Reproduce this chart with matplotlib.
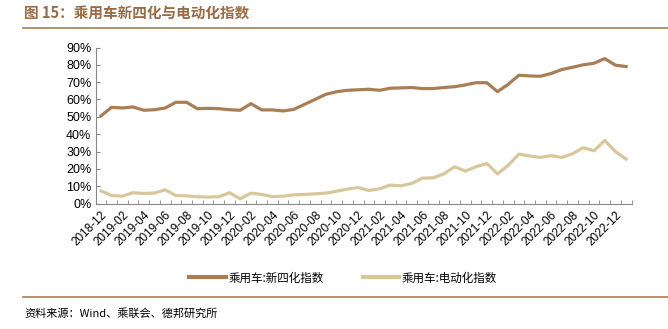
import numpy as np
import matplotlib.pyplot as plt
from matplotlib.lines import Line2D

plt.rcParams['font.family'] = ['Liberation Sans', 'Noto Sans CJK SC', 'DejaVu Sans']

# 月度数据 2018-12 ~ 2023-01
months = ["2018-12"] + [f"{y}-{m:02d}" for y in (2019, 2020, 2021, 2022) for m in range(1, 13)] + ["2023-01"]

new4 = [50.5, 55.5, 55.1, 55.7, 53.8, 54.1, 55.1, 58.4, 58.4, 54.7,
        54.9, 54.7, 54.1, 53.8, 57.6, 54.0, 54.0, 53.4, 54.3, 57.2,
        60.1, 63.0, 64.5, 65.3, 65.6, 65.9, 65.3, 66.5, 66.7, 66.9,
        66.3, 66.3, 66.9, 67.4, 68.4, 69.7, 69.7, 64.5, 68.8, 74.0,
        73.6, 73.4, 75.0, 77.3, 78.6, 80.0, 80.9, 83.6, 79.8, 79.0]

elec = [7.3, 4.6, 4.2, 6.2, 5.8, 6.0, 7.9, 4.6, 4.4, 3.9,
        3.7, 3.9, 6.2, 2.7, 6.0, 5.2, 4.0, 4.2, 5.0, 5.2,
        5.6, 6.0, 7.1, 8.3, 9.2, 7.5, 8.5, 10.6, 10.2, 11.6,
        14.6, 14.8, 17.1, 21.2, 18.7, 21.2, 23.1, 17.1, 22.0, 28.5,
        27.4, 26.6, 27.6, 26.6, 28.7, 32.2, 30.4, 36.4, 29.9, 25.6]

label_new4 = "乘用车:新四化指数"
label_elec = "乘用车:电动化指数"
c_new4 = "#a97e55"
c_elec = "#d9c79c"
c_title = "#9a6b45"

fig = plt.figure(figsize=(6.68, 3.29), dpi=100)
ax = fig.add_axes([95.5/668, 1-203.5/329, (631.5-95.5)/668, (203.5-47.5)/329])

x = np.arange(len(months))
ax.plot(x, np.array(new4)/100, color=c_new4, lw=2.3, solid_joinstyle='round')
ax.plot(x, np.array(elec)/100, color=c_elec, lw=2.3, solid_joinstyle='round')

ax.set_xlim(-0.5, len(months)-0.5)
ax.set_ylim(0, 0.9)
ax.set_yticks(np.arange(0, 0.91, 0.1))
ax.set_yticklabels([f"{int(round(v*100))}%" for v in np.arange(0, 0.91, 0.1)], fontsize=9)
ax.set_xticks(x[::2])
ax.set_xticklabels(months[::2], rotation=45, ha='right', rotation_mode='anchor', fontsize=8.5)
ax.set_xticks(np.arange(-0.5, len(months), 1), minor=True)
ax.tick_params(axis='x', which='major', length=0, pad=4)
ax.tick_params(axis='x', which='minor', length=3, direction='in', color='#888888')
ax.tick_params(axis='y', length=3, direction='in', color='#888888', pad=3)
for s in ('top', 'right'):
    ax.spines[s].set_visible(False)
for s in ('left', 'bottom'):
    ax.spines[s].set_color('#888888')
    ax.spines[s].set_linewidth(0.8)

# 标题和分隔线
fig.text(24/668, 1-13/329, "图 15：乘用车新四化与电动化指数", color=c_title,
         fontsize=10.5, fontweight='bold', va='center', ha='left', family=['Noto Sans CJK SC'])
fig.add_artist(Line2D([23/668, 1], [1-28/329, 1-28/329], color=c_new4, lw=1.2))
fig.add_artist(Line2D([23/668, 1], [1-297/329, 1-297/329], color=c_new4, lw=1.2))

# 图例
handles = [Line2D([], [], color=c_new4, lw=3), Line2D([], [], color=c_elec, lw=3)]
fig.legend(handles, [label_new4, label_elec], loc='center', bbox_to_anchor=(343/668, 1-278/329),
           ncol=2, frameon=False, handlelength=3.2, handletextpad=0.2, columnspacing=3.4,
           prop={'family': ['Noto Sans CJK SC'], 'size': 8.3})

fig.text(24/668, 1-313/329, "资料来源：Wind、乘联会、德邦研究所", fontsize=8,
         va='center', ha='left', family=['Noto Sans CJK SC', 'Liberation Sans'])

fig.savefig("out.png", dpi=100)
